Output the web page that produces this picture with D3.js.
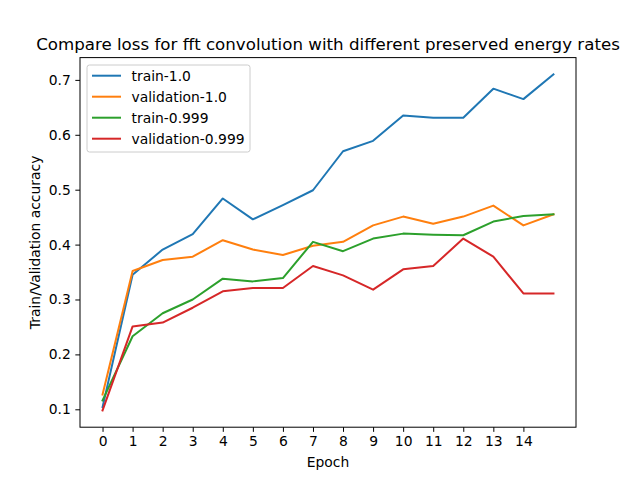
<!DOCTYPE html>
<html>
<head>
<meta charset="utf-8">
<script src="https://cdn.jsdelivr.net/npm/d3@7"></script>
<style>
  body { margin: 0; background: #fff; }
  svg { font-family: "DejaVu Sans", sans-serif; }
</style>
</head>
<body>
<svg id="chart" width="640" height="480"></svg>
<script>
'use strict';

// values
const epochs = d3.range(16);
const xTicks = d3.range(15);
const yTicks = [0.1, 0.2, 0.3, 0.4, 0.5, 0.6, 0.7];
const seriesNames = ['train-1.0', 'validation-1.0', 'train-0.999', 'validation-0.999'];
const train10 = [0.104, 0.345, 0.391, 0.419, 0.484, 0.446, 0.472, 0.499, 0.570, 0.589, 0.635, 0.631, 0.631, 0.684, 0.665, 0.710];
const val10 = [0.127, 0.352, 0.372, 0.378, 0.408, 0.391, 0.381, 0.398, 0.405, 0.435, 0.451, 0.438, 0.451, 0.471, 0.435, 0.455];
const train999 = [0.116, 0.233, 0.275, 0.300, 0.338, 0.333, 0.339, 0.405, 0.388, 0.411, 0.420, 0.418, 0.417, 0.442, 0.452, 0.455];
const val999 = [0.098, 0.251, 0.258, 0.285, 0.315, 0.321, 0.321, 0.361, 0.344, 0.318, 0.355, 0.361, 0.411, 0.378, 0.311, 0.311];
const colors = ['#1f77b4', '#ff7f0e', '#2ca02c', '#d62728'];

const series = [train10, val10, train999, val999];

// axes box, matplotlib default placement
const plotLeft = 80, plotRight = 576, plotTop = 57.6, plotBottom = 427.2;
const fontSmall = '13.89px';   // 10pt at 100 dpi
const fontTitle = '16.67px';   // 12pt at 100 dpi

const svg = d3.select('#chart');

const all = series.flat();
const yMin = d3.min(all), yMax = d3.max(all);
const yPad = (yMax - yMin) * 0.05;

const x = d3.scaleLinear().domain([-0.75, 15.75]).range([plotLeft, plotRight]);
const y = d3.scaleLinear().domain([yMin - yPad, yMax + yPad]).range([plotBottom, plotTop]);

const line = d3.line()
    .x((d, i) => x(epochs[i]))
    .y(d => y(d));

svg.append('g')
    .selectAll('path')
    .data(series)
    .enter().append('path')
    .attr('d', line)
    .attr('fill', 'none')
    .attr('stroke', (d, i) => colors[i])
    .attr('stroke-width', 2)
    .attr('stroke-linejoin', 'round')
    .attr('stroke-linecap', 'square');

// axes
const xAxis = svg.append('g')
    .attr('transform', `translate(0,${plotBottom})`)
    .call(d3.axisBottom(x).tickValues(xTicks).tickFormat(d3.format('d')).tickSize(4.67).tickPadding(4.5));

const yAxis = svg.append('g')
    .attr('transform', `translate(${plotLeft},0)`)
    .call(d3.axisLeft(y).tickValues(yTicks).tickFormat(d3.format('.1f')).tickSize(4.67).tickPadding(4.5));

[xAxis, yAxis].forEach(g => {
    g.select('.domain').remove();
    g.selectAll('.tick line').attr('stroke', '#000').attr('stroke-width', 1);
    g.selectAll('.tick text')
        .attr('fill', '#000')
        .style('font-size', fontSmall)
        .style('font-family', '"DejaVu Sans", sans-serif');
});

// frame
svg.append('rect')
    .attr('x', plotLeft)
    .attr('y', plotTop)
    .attr('width', plotRight - plotLeft)
    .attr('height', plotBottom - plotTop)
    .attr('fill', 'none')
    .attr('stroke', '#000')
    .attr('stroke-width', 1);

// labels
svg.append('text')
    .attr('x', (plotLeft + plotRight) / 2)
    .attr('y', 49.5)
    .attr('text-anchor', 'middle')
    .style('font-size', fontTitle)
    .text('Compare loss for fft convolution with different preserved energy rates');

svg.append('text')
    .attr('x', (plotLeft + plotRight) / 2)
    .attr('y', 467)
    .attr('text-anchor', 'middle')
    .style('font-size', fontSmall)
    .text('Epoch');

svg.append('text')
    .attr('transform', `translate(40,${(plotTop + plotBottom) / 2}) rotate(-90)`)
    .attr('text-anchor', 'middle')
    .style('font-size', fontSmall)
    .text('Train/Validation accuracy');

// legend
const legend = svg.append('g').attr('transform', 'translate(87,65)');

legend.append('rect')
    .attr('width', 163)
    .attr('height', 87)
    .attr('rx', 2.5)
    .attr('fill', '#fff')
    .attr('fill-opacity', 0.8)
    .attr('stroke', '#ccc')
    .attr('stroke-width', 1);

const items = legend.selectAll('g.item')
    .data(seriesNames)
    .enter().append('g')
    .attr('class', 'item')
    .attr('transform', (d, i) => `translate(0,${10.7 + i * 21})`);

items.append('line')
    .attr('x1', 5).attr('x2', 34)
    .attr('stroke', (d, i) => colors[i])
    .attr('stroke-width', 2);

items.append('text')
    .attr('x', 44.5)
    .attr('dy', '0.35em')
    .style('font-size', fontSmall)
    .text(d => d);
</script>
</body>
</html>
